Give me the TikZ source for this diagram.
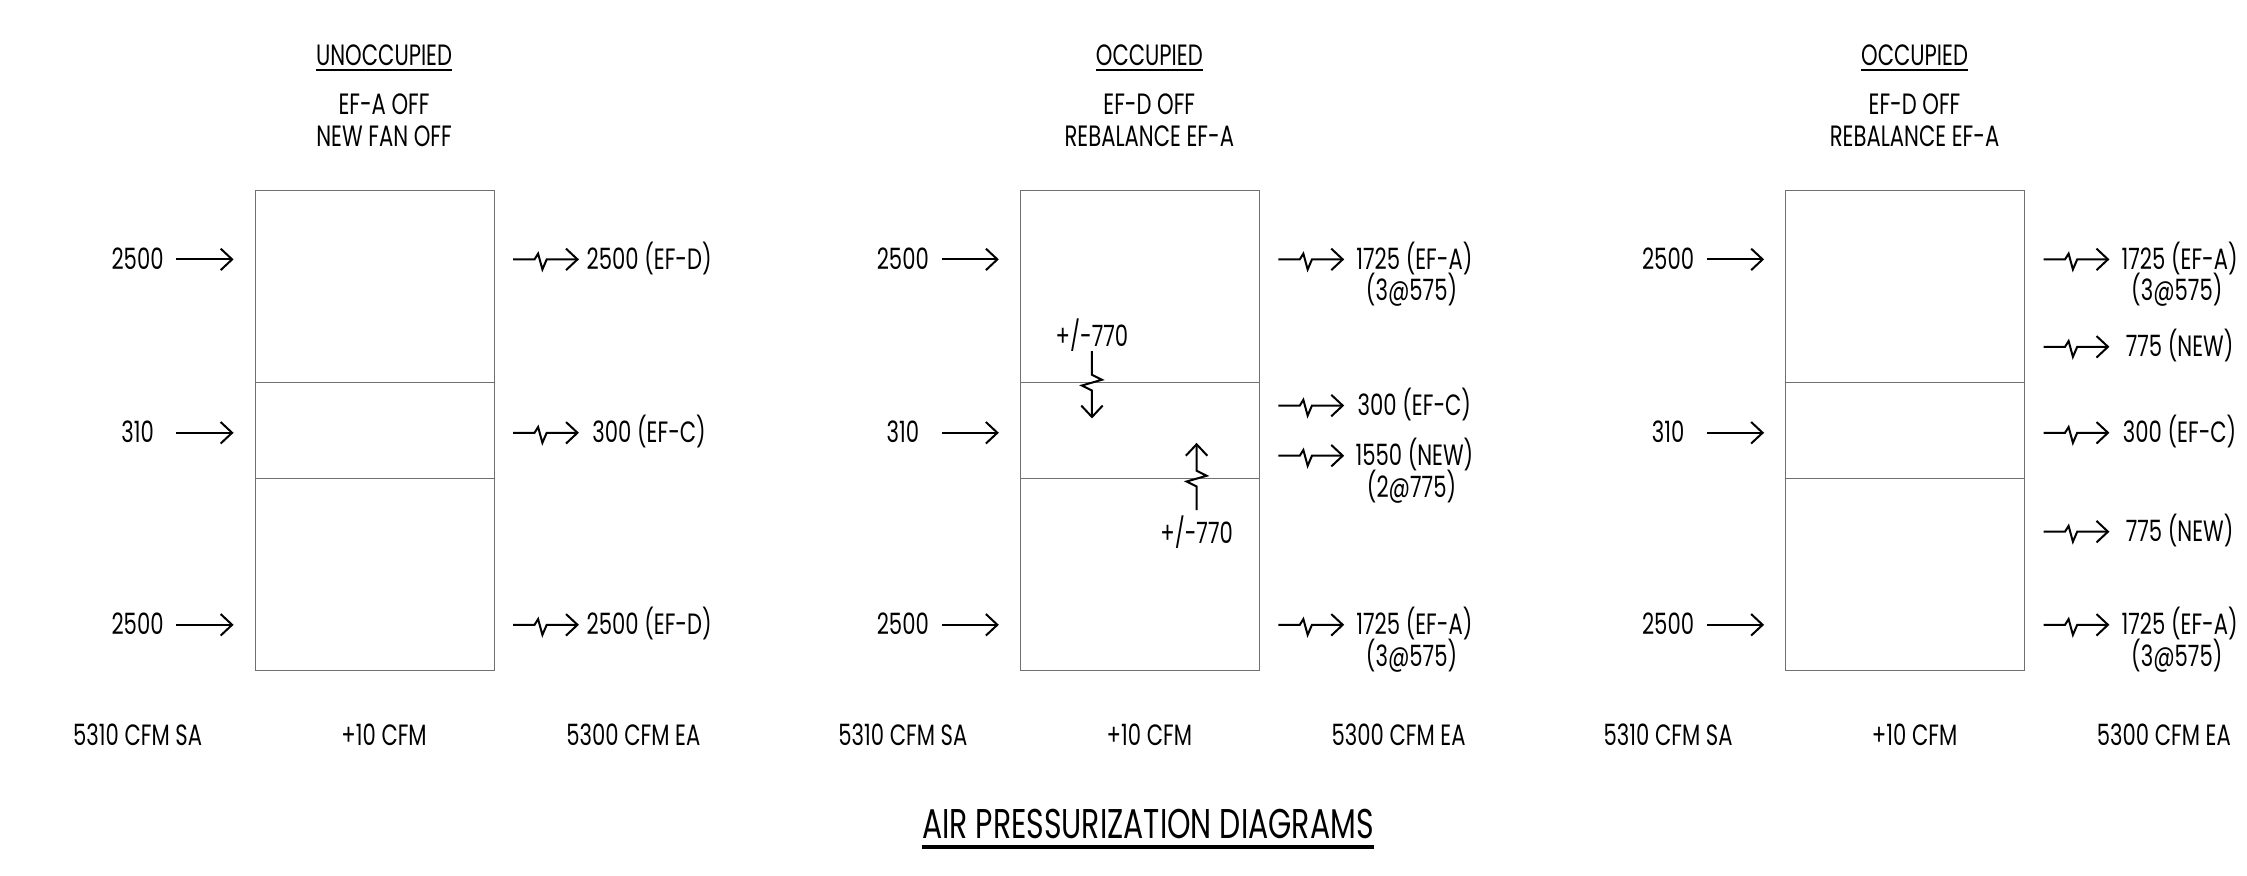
\documentclass[tikz,border=0pt]{standalone}
\usepackage{fontspec}
\setmainfont{Poppins}[FakeStretch=0.72]
\usetikzlibrary{arrows.meta}
\definecolor{boxgray}{HTML}{707070}
\newcommand\outflow[4]{%
  \coordinate (#1s) at (#2+13,#3);
  \coordinate (#1e) at (#2+59,#3);
  \draw[flow] (#1s) -- ++(15,0) -- ++(2.5,-4) -- ++(3,11) -- ++(3,-7) -- (#1e);
  \node[lbl] (#1t) at (#2+108,#3) {#4};
}
\begin{document}
\begin{tikzpicture}[x=1pt,y=-1pt,
  box/.style={draw=boxgray, line width=0.8pt, inner sep=0pt, outer sep=0pt,
    minimum width=167pt, minimum height=335pt, anchor=north west},
  divider/.style={draw=boxgray, line width=0.8pt},
  lbl/.style={inner sep=0pt, outer sep=0pt, text height=14pt, text depth=0pt,
    font=\fontsize{20.5}{24}\selectfont},
  bigtitle/.style={inner sep=0pt, outer sep=0pt, text height=20pt, text depth=0pt,
    font=\fontsize{29}{34}\selectfont},
  flow/.style={line width=1.4pt, line join=miter, -{Straight Barb[length=8pt,width=15pt]}},
  uline/.style={line width=1.3pt},
]
\useasboundingbox (0,0) rectangle (1568,611);

\foreach \k/\L in {1/178,2/712,3/1246}{
  \node[box] (b\k) at (\L,133) {};
  \draw[divider] (b\k.west |- 0,267) -- (b\k.east |- 0,267);
  \draw[divider] (b\k.west |- 0,334) -- (b\k.east |- 0,334);
  \foreach \r/\y/\t in {1/181/2500,2/302/310,3/436/2500}{
    \node[lbl] (in\k\r) at (\L-82,\y) {\t};
    \coordinate (ins\k\r) at (\L-55,\y);
    \coordinate (ine\k\r) at (\L-15,\y);
    \draw[flow] (ins\k\r) -- (ine\k\r);
  }
  \node[lbl] (sa\k) at (\L-82,513) {5310 CFM SA};
  \node[lbl] (net\k) at (\L+90,513) {+10 CFM};
  \node[lbl] (ea\k) at (\L+264,513) {5300 CFM EA};
}

% titles
\node[lbl] (h1) at (268,39) {UNOCCUPIED};
\draw[uline] ([yshift=-3pt]h1.south west) -- ([yshift=-3pt]h1.south east);
\node[lbl] (h1a) at (268,73) {EF-A OFF};
\node[lbl] (h1b) at (268,95) {NEW FAN OFF};

\node[lbl] (h2) at (802,39) {OCCUPIED};
\draw[uline] ([yshift=-3pt]h2.south west) -- ([yshift=-3pt]h2.south east);
\node[lbl] (h2a) at (802,73) {EF-D OFF};
\node[lbl] (h2b) at (802,95) {REBALANCE EF-A};

\node[lbl] (h3) at (1336,39) {OCCUPIED};
\draw[uline] ([yshift=-3pt]h3.south west) -- ([yshift=-3pt]h3.south east);
\node[lbl] (h3a) at (1336,73) {EF-D OFF};
\node[lbl] (h3b) at (1336,95) {REBALANCE EF-A};

% panel 1 outflows
\outflow{o11}{345}{181}{2500 (EF-D)}
\outflow{o12}{345}{302}{300 (EF-C)}
\outflow{o13}{345}{436}{2500 (EF-D)}

% panel 2 outflows
\outflow{o21}{879}{181}{1725 (EF-A)}
\node[lbl] (o21u) at (985,203) {(3@575)};
\outflow{o22}{879}{283}{300 (EF-C)}
\outflow{o23}{879}{318}{1550 (NEW)}
\node[lbl] (o23u) at (985,340) {(2@775)};
\outflow{o24}{879}{436}{1725 (EF-A)}
\node[lbl] (o24u) at (985,458) {(3@575)};

% panel 2 transfer arrows
\node[lbl] (xa) at (762,235) {+/-770};
\coordinate (xas) at (762,245);
\coordinate (xae) at (762,292);
\draw[flow] (xas) -- ++(0,16.5) -- ++(7,3.5) -- ++(-14,4) -- ++(7,3.5) -- (xae);
\node[lbl] (xb) at (835,372) {+/-770};
\coordinate (xbs) at (835,356);
\coordinate (xbe) at (835,309);
\draw[flow] (xbs) -- ++(0,-16.5) -- ++(-7,-3.5) -- ++(14,-4) -- ++(-7,-3.5) -- (xbe);

% panel 3 outflows
\outflow{o31}{1413}{181}{1725 (EF-A)}
\node[lbl] (o31u) at (1519,203) {(3@575)};
\outflow{o32}{1413}{242}{775 (NEW)}
\outflow{o33}{1413}{302}{300 (EF-C)}
\outflow{o34}{1413}{371}{775 (NEW)}
\outflow{o35}{1413}{436}{1725 (EF-A)}
\node[lbl] (o35u) at (1519,458) {(3@575)};

% main title
\node[bigtitle] (title) at (801,575) {AIR PRESSURIZATION DIAGRAMS};
\draw[line width=2.2pt] ([yshift=-6pt]title.south west) -- ([yshift=-6pt]title.south east);
\end{tikzpicture}
\end{document}
